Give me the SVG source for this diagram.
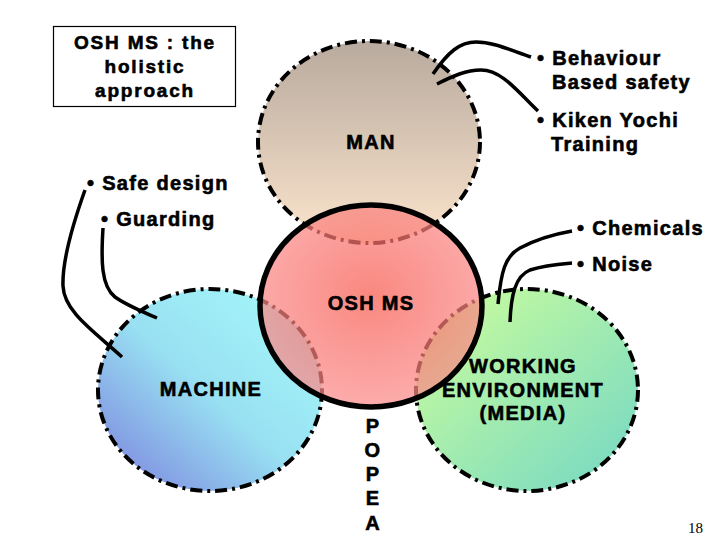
<svg xmlns="http://www.w3.org/2000/svg" width="720" height="540" viewBox="0 0 720 540">
<defs>
<linearGradient id="gMan" x1="0" y1="0" x2="0" y2="1">
<stop offset="0" stop-color="#b8aa9e"/>
<stop offset="1" stop-color="#fbe4cc"/>
</linearGradient>
<linearGradient id="gMach" x1="0.1" y1="0.95" x2="0.85" y2="0.2">
<stop offset="0" stop-color="#7f8ce0"/>
<stop offset="0.55" stop-color="#98e0f2"/>
<stop offset="1" stop-color="#a2f2f8"/>
</linearGradient>
<linearGradient id="gWork" x1="0.15" y1="0.1" x2="0.9" y2="0.85">
<stop offset="0" stop-color="#c4faa0"/>
<stop offset="1" stop-color="#7edcc0"/>
</linearGradient>
<radialGradient id="gOsh" cx="0.5" cy="0.45" r="0.55">
<stop offset="0" stop-color="#f75a4e"/>
<stop offset="1" stop-color="#fb8c8c"/>
</radialGradient>
</defs>
<style>
.dash{stroke:#000;stroke-width:4;stroke-dasharray:12 5 3 5;}
.t{font-family:"Liberation Sans",Arial,sans-serif;font-weight:bold;font-size:20px;letter-spacing:1.3px;fill:#000;stroke:#000;stroke-width:0.6px;}
.c{text-anchor:middle;}
.con{fill:none;stroke:#000;stroke-width:3.5;stroke-linecap:butt;}
</style>
<rect width="720" height="540" fill="#fff"/>

<g id="title-box">
<rect x="53.5" y="26.5" width="182" height="80" fill="#fff" stroke="#000" stroke-width="1.2"/>
<text class="t c" style="font-size:19px;letter-spacing:1.8px" x="145" y="49">OSH MS : the</text>
<text class="t c" style="font-size:19px;letter-spacing:1.8px" x="145" y="73">holistic</text>
<text class="t c" style="font-size:19px;letter-spacing:1.8px" x="145" y="97">approach</text>
</g>

<g id="man">
<ellipse cx="369" cy="142" rx="111" ry="101" fill="url(#gMan)" class="dash"/>
</g>
<g id="machine">
<ellipse cx="210" cy="390" rx="112" ry="101" fill="url(#gMach)" class="dash"/>
</g>
<g id="working-environment">
<ellipse cx="527" cy="390" rx="111" ry="101" fill="url(#gWork)" class="dash"/>
</g>
<g id="osh-ms">
<ellipse cx="371" cy="306" rx="111" ry="101" fill="url(#gOsh)" fill-opacity="0.72"/>
<ellipse cx="371" cy="306" rx="111" ry="101" fill="none" stroke="#000" stroke-width="5.5"/>
</g>

<g id="connectors">
<path class="con" d="M433,74 C448,52 460,42 476,42 C494,42 510,50 531,57"/>
<path class="con" d="M437,84 C453,76 466,70 481,70 C502,70 518,92 538,111"/>
<path class="con" d="M85,190 C75,218 62,258 63,286 C64,312 95,332 122,357"/>
<path class="con" d="M103,228 C101,260 101,286 115,297 C126,305 141,311 157,318"/>
<path class="con" d="M498,304 C501,272 505,256 520,248 C535,240 555,234 572,231"/>
<path class="con" d="M510,322 C511,296 515,276 530,270 C545,265 560,264 572,263"/>
</g>

<g id="labels">
<text class="t c" x="371" y="149">MAN</text>
<text class="t c" x="371" y="310">OSH MS</text>
<text class="t c" x="211" y="396">MACHINE</text>
<text class="t c" x="523" y="373">WORKING</text>
<text class="t c" x="523" y="397">ENVIRONMENT</text>
<text class="t c" x="523" y="420">(MEDIA)</text>
<text class="t" x="537" y="65">• Behaviour</text>
<text class="t" x="552" y="89">Based safety</text>
<text class="t" x="537" y="127">• Kiken Yochi</text>
<text class="t" x="551" y="151">Training</text>
<text class="t" x="87" y="190">• Safe design</text>
<text class="t" x="101" y="226">• Guarding</text>
<text class="t" x="577" y="235">• Chemicals</text>
<text class="t" x="577" y="271">• Noise</text>
<g id="popea">
<text class="t c" x="373" y="433">P</text>
<text class="t c" x="373" y="457">O</text>
<text class="t c" x="373" y="481">P</text>
<text class="t c" x="373" y="505">E</text>
<text class="t c" x="373" y="530">A</text>
</g>
<text x="688" y="533" style="font-family:'Liberation Serif','Times New Roman',serif;font-size:15px;fill:#000">18</text>
</g>
</svg>
